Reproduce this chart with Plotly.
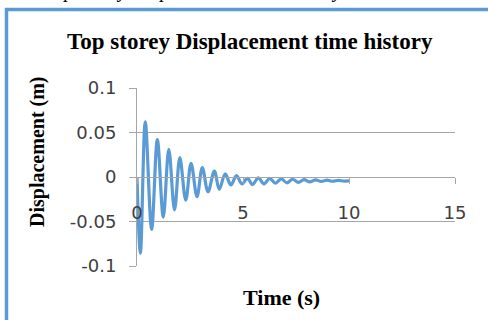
import plotly.graph_objects as go

# Values (extrema of the damped response)
time_s = [0.0, 0.16, 0.39, 0.69, 0.96, 1.24, 1.50, 1.77, 2.02, 2.30, 2.55, 2.83, 3.08, 3.35,
          3.65, 3.88, 4.16, 4.43, 4.69, 4.95, 5.21, 5.45, 5.72, 5.99, 6.26, 6.53, 6.80,
          7.07, 7.34, 7.61, 7.88, 8.15, 8.42, 8.69, 8.96, 9.23, 9.50, 9.77, 10.0]
displacement_m = [0.0, -0.0857, 0.062, -0.0588, 0.042, -0.045, 0.031, -0.037, 0.0217, -0.026,
                  0.0154, -0.022, 0.0105, -0.0165, 0.0067, -0.0138, 0.0034, -0.009, 0.0015,
                  -0.0079, -0.0015, -0.0085, -0.001, -0.0078, -0.0015, -0.007, -0.002,
                  -0.0065, -0.0025, -0.006, -0.003, -0.0055, -0.0032, -0.005, -0.0035,
                  -0.0048, -0.0037, -0.0046, -0.004]

x_ticks = [0, 5, 10, 15]
x_tick_labels = ["0", "5", "10", "15"]
y_ticks = [-0.1, -0.05, 0, 0.05, 0.1]
y_tick_labels = ["-0.1", "-0.05", "0", "0.05", "0.1"]

W, H = 488, 320
px = lambda v: v / W
py = lambda v: 1 - v / H

x_dom = [px(137), px(455)]
y_dom = [py(266), py(88)]
y_zero = (y_dom[0] + y_dom[1]) / 2

GRID = "#a6a6a6"
BLUE = "#5B9BD5"
TICKFONT = dict(family="DejaVu Sans", size=18, color="#404040")
SERIF = "Liberation Serif"

fig = go.Figure()
fig.add_trace(go.Scatter(
    x=time_s, y=displacement_m, mode="lines",
    line=dict(color=BLUE, width=3.2, shape="spline", smoothing=1.0),
    showlegend=False, hoverinfo="skip"))

fig.update_layout(
    width=W, height=H,
    margin=dict(l=0, r=0, t=0, b=0, autoexpand=False),
    paper_bgcolor="white", plot_bgcolor="white",
    xaxis=dict(
        domain=x_dom, range=[0, 15], anchor="free", position=y_zero,
        tickvals=x_ticks, ticktext=x_tick_labels, tickfont=TICKFONT,
        ticks="outside", ticklen=6, tickcolor=GRID, tickwidth=1,
        showline=True, linecolor=GRID, linewidth=1,
        showgrid=False, zeroline=False, ticklabelstandoff=13,
        fixedrange=True),
    yaxis=dict(
        domain=y_dom, range=[-0.1, 0.1],
        tickvals=y_ticks, ticktext=y_tick_labels, tickfont=TICKFONT,
        ticks="outside", ticklen=7, tickcolor=GRID, tickwidth=1,
        showline=True, linecolor=GRID, linewidth=1,
        showgrid=True, gridcolor=GRID, gridwidth=1, zeroline=False,
        ticklabelstandoff=9, fixedrange=True),
    annotations=[
        dict(text="<b>Top storey Displacement time history</b>", x=px(250), y=py(42),
             xref="paper", yref="paper", xanchor="center", yanchor="middle",
             showarrow=False, font=dict(family=SERIF, size=23, color="black")),
        dict(text="<b>Displacement (m)</b>", x=px(37), y=py(152),
             xref="paper", yref="paper", xanchor="center", yanchor="middle",
             textangle=-90, showarrow=False,
             font=dict(family=SERIF, size=20, color="black")),
        dict(text="<b>Time (s)</b>", x=px(281), y=py(297),
             xref="paper", yref="paper", xanchor="center", yanchor="middle",
             showarrow=False, font=dict(family=SERIF, size=22, color="black")),
        dict(text="<i>Top storey Displacement time history</i>", x=px(345), y=py(4),
             xref="paper", yref="paper", xanchor="right", yanchor="bottom",
             showarrow=False, font=dict(family=SERIF, size=20, color="black")),
    ],
    shapes=[
        dict(type="path", xref="paper", yref="paper",
             path=f"M {px(6.5)} {py(330)} L {px(6.5)} {py(9.5)} L {px(500)} {py(9.5)}",
             line=dict(color=BLUE, width=3.5)),
    ],
)

fig.write_html("out.html")
